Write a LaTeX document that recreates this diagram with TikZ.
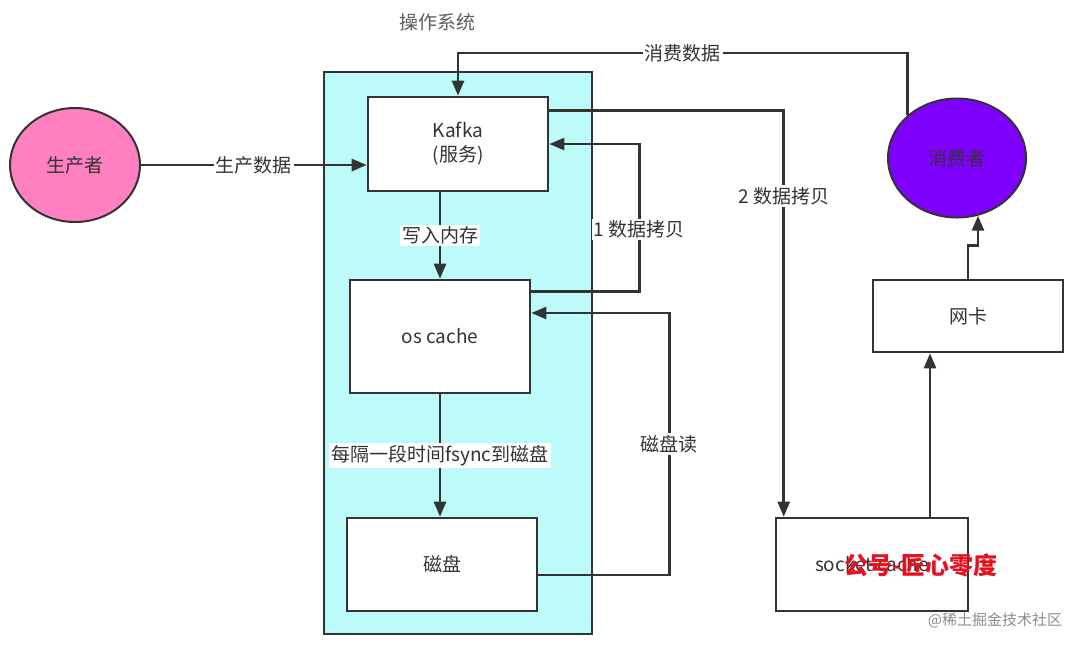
\documentclass[tikz,border=0pt]{standalone}
\usepackage{fontspec}
\setmainfont{Noto Sans CJK SC}
\usetikzlibrary{arrows.meta,shapes.geometric}

\definecolor{oscyan}{HTML}{BDFBFB}
\definecolor{prodpink}{HTML}{FF80C0}
\definecolor{conspurple}{HTML}{7F00FF}
\definecolor{txtgray}{HTML}{333333}
\definecolor{markred}{HTML}{E8101E}

\tikzset{
  box/.style={draw=txtgray, fill=white, line width=1.3pt, text=txtgray, font=\fontsize{9.5}{12}\selectfont},
  party/.style={ellipse, draw=black!80, line width=1pt, text=txtgray, font=\fontsize{9.5}{12}\selectfont},
  arr/.style={-{Triangle[length=7.5pt,width=6pt]}, line width=1.3pt, draw=txtgray},
  lbl/.style={fill=white, inner sep=1pt, text=txtgray, font=\fontsize{9.5}{12}\selectfont}
}

\begin{document}
\begin{tikzpicture}[x=0.5pt,y=-0.5pt]
            \useasboundingbox (0,0) rectangle (1080,645);
            % operating system area
            \node[draw=txtgray, fill=oscyan, line width=1.3pt, minimum width=134pt, minimum height=281pt] (os) at (458,353) {};
            \node[text=txtgray!80, font=\fontsize{9.5}{12}\selectfont] (oslabel) at (437,22) {操作系统};
            \node[box, minimum width=90pt, minimum height=47pt, align=center] (kafka) at (458,144) {Kafka\\(服务)};
            \node[box, minimum width=90pt, minimum height=56.5pt] (cache) at (440,336.5) {os cache};
            \node[box, minimum width=95pt, minimum height=46.5pt] (disk) at (442,564.5) {磁盘};
            % outside
            \node[party, fill=prodpink, minimum width=65pt, minimum height=57pt] (producer) at (75,165) {生产者};
            \node[party, fill=conspurple, minimum width=69pt, minimum height=59.5pt] (consumer) at (957,158) {消费者};
            \node[box, minimum width=95pt, minimum height=36pt] (nic) at (968,316) {网卡};
            \node[box, minimum width=96pt, minimum height=46.5pt] (socket) at (872,564.5) {socket cache};
            \coordinate (topline) at (0,53);
            \coordinate (k2) at ([yshift=-7.5pt]kafka.north east);
            \coordinate (s2) at ([xshift=4.5pt]socket.north west);
            \coordinate (c3) at ([yshift=11.75pt]cache.east);
            % connectors
            \draw[arr] (producer.east) -- node[lbl, pos=0.5]{生产数据} (producer -| kafka.west);
            \draw[arr] (consumer.north west) -- (consumer.north west |- topline)
                -- node[lbl]{消费数据} (kafka.north |- topline) -- (kafka.north);
            \draw[arr] (cache.north |- kafka.south) -- node[lbl]{写入内存} (cache.north);
            \draw[arr] (cache.south) -- node[lbl, pos=0.5]{每隔一段时间fsync到磁盘} (cache.south |- disk.north);
            \draw[arr] ([yshift=-6.5pt]cache.north east) -- ++(108,0) coordinate (c1)
                -- node[lbl, pos=0.42]{1 数据拷贝} (c1 |- kafka.east) -- (kafka.east);
            \draw[arr] (k2) -- (s2 |- k2) -- node[lbl, pos=0.21]{2 数据拷贝} (s2);
            \draw[arr] ([yshift=-5.25pt]disk.east) -- ++(131,0) coordinate (d1)
                -- node[lbl, pos=0.5]{磁盘读} (d1 |- c3) -- (c3);
            \draw[arr] ([xshift=29pt]socket.north) -- ([xshift=29pt]socket.north |- nic.south);
            \draw[arr] (nic.north) -- ++(0,-33) -| (consumer.-70);
            % watermarks
            \node[text=markred, font=\fontsize{12}{14}\selectfont\bfseries] (mark) at (921,565) {公号-匠心零度};
            \node[text=black!45, font=\fontsize{7.5}{9}\selectfont] (site) at (995,620) {@稀土掘金技术社区};
        \end{tikzpicture}
\end{document}
